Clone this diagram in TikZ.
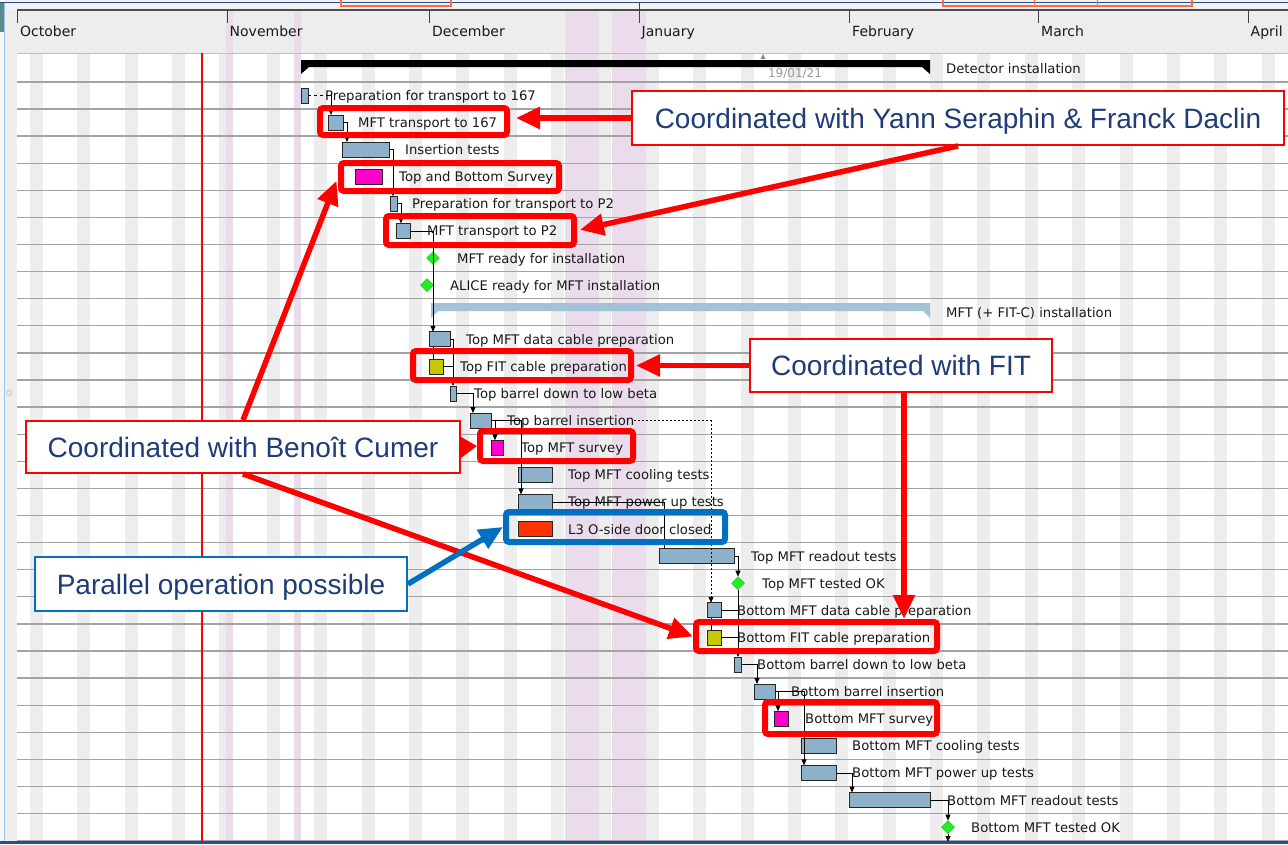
\documentclass[tikz,border=0pt]{standalone}
\usepackage{fontspec}
\usetikzlibrary{shapes.geometric,arrows.meta,calc}
\newfontfamily\gfont{DejaVu Sans}
\newfontfamily\cfont{Liberation Sans}
\definecolor{stripegray}{HTML}{EDEDED}
\definecolor{holpink}{HTML}{EADCEA}
\definecolor{gridgray}{HTML}{A3A3A3}
\definecolor{barblue}{HTML}{8DB1CA}
\definecolor{sumblue}{HTML}{A3C1D7}
\definecolor{magbar}{HTML}{FF00CC}
\definecolor{yelbar}{HTML}{C8C800}
\definecolor{redbar}{HTML}{FF3300}
\definecolor{msgreen}{HTML}{22EE22}
\definecolor{navytext}{HTML}{1F3C78}
\definecolor{callblue}{HTML}{0070C0}
\definecolor{topblue}{HTML}{2E4C8C}
\definecolor{orangetop}{HTML}{FF6A45}
\definecolor{frameteal}{HTML}{5A8C8C}
\definecolor{framelblue}{HTML}{9DC3E6}
\newcommand{\rowy}[1]{68.3+27.1*#1}
\newcommand{\gbar}[5]{\node[bar,#5,minimum width={(#3)-(#2)}] (#1) at ({(#2+#3)/2},{\rowy{#4}}) {};}
\newcommand{\glab}[4]{\node[lbl] (#1) at (#2,{\rowy{#3}+5}) {#4};}
\newcommand{\glink}[5]{\draw[cn,#5] (#1.east) -- ++(#2,0) coordinate (#4) -- (#4 |- #3.north);}
\tikzset{
  bar/.style={draw=black!85, line width=0.8pt, fill=barblue, minimum height=15, inner sep=0, outer sep=0},
  magb/.style={fill=magbar},
  yelb/.style={fill=yelbar},
  redb/.style={fill=redbar},
  diam/.style={diamond, fill=msgreen, draw=msgreen!75!black, line width=0.3pt, minimum size=13, inner sep=0, outer sep=0},
  lbl/.style={anchor=base west, inner sep=0, text=black!90, font=\gfont\fontsize{13.2}{15}\selectfont},
  monthlbl/.style={anchor=base west, inner sep=0, text=black!90, font=\gfont\fontsize{14}{16}\selectfont},
  cn/.style={draw=black, line width=0.8pt},
  arr/.style={-{Triangle[length=6pt,width=5pt]}},
  callr/.style={draw=red, line width=1.8pt, fill=white, text=navytext, font=\cfont\fontsize{28}{30}\selectfont, inner sep=0, text height=20pt, text depth=0pt},
  callb/.style={callr, draw=callblue},
  hl/.style={draw=red, line width=6pt, rounded corners=3pt, inner sep=0},
  hlb/.style={hl, draw=callblue},
  callarrow/.style={draw=red, line width=5.5pt, -{Triangle[length=24pt,width=21pt]}},
}
\begin{document}
\begin{tikzpicture}[x=1pt,y=-1pt]
\useasboundingbox (0,0) rectangle (1288,844);
% background and frame
\fill[stripegray] (0,0) rectangle (1288,844);
\fill[black!5] (0,0) rectangle (1288,10);
\fill[white] (17,53) rectangle (1288,844);
\fill[black!4] (0,0) rectangle (4,844);
\fill[frameteal] (0,3) rectangle (4,32);
\draw[framelblue, line width=1pt] (4.5,3) -- (4.5,844);
\draw[black!35] (9,393) circle (2.5);
% weekend stripes
\foreach \k in {0,...,26} \fill[stripegray] ({30+47.37*\k},53) rectangle ++(13,791);
% holidays
\fill[holpink] (226,10) rectangle (233,844);
\fill[holpink] (294,10) rectangle (301,844);
\fill[holpink] (565,10) rectangle (599,844);
\fill[holpink] (612,10) rectangle (646,844);
% header
\draw[topblue, line width=1.5pt] (0,2.5) -- (1288,2.5);
\draw[orangetop, line width=1.5pt] (341,0) -- (341,6) -- (451,6) -- (451,0);
\draw[orangetop, line width=1.5pt] (943,0) -- (943,6) -- (1192,6) -- (1192,0);
\draw[orangetop, line width=1pt] (1034,0) -- (1034,6) (1097,0) -- (1097,6);
\draw[black!70, line width=1.2pt] (17,10) -- (1288,10);
\draw[black!25, line width=1pt] (17,53) -- (1288,53);
\foreach \x/\m in {17.5/October, 227/November, 429.5/December, 639/January, 849.5/February, 1038.5/March, 1248/April}{
  \draw[black!75, line width=1pt] (\x,10) -- (\x,23);
  \node[monthlbl] at (\x+2.5,36) {\m};
}
\draw[black!75, line width=1pt] (639,3) -- (639,10);
% grid lines
\foreach \k in {0,...,28} \draw[gridgray, line width=1.3pt] (17,{81.85+27.1*\k}) -- (1288,{81.85+27.1*\k});
% today line
\draw[red, line width=1.3pt] (202,53) -- (202,844);
% summary bars
\node[anchor=base, inner sep=0, text=black!40, font=\gfont\fontsize{12}{12}\selectfont] (dt) at (795,77) {19/01/21};
\fill[black!45] (760.5,59) -- (763,54) -- (765.5,59) -- cycle;
\fill[black] (301,60) -- (930,60) -- (930,74) -- (922,67) -- (309,67) -- (301,74) -- cycle;
\fill[sumblue] (431,303) -- (930,303) -- (930,318) -- (923,311) -- (438,311) -- (431,318) -- cycle;
% bars
\gbar{b1}{301}{308}{1}{}
\gbar{b2}{328}{343}{2}{}
\gbar{b3}{342}{389}{3}{}
\gbar{b4}{355}{382}{4}{magb}
\gbar{b5}{390}{397}{5}{}
\gbar{b6}{396}{410}{6}{}
\gbar{b10}{429}{450}{10}{}
\gbar{b11}{429}{443}{11}{yelb}
\gbar{b12}{450}{456}{12}{}
\gbar{b13}{470}{491}{13}{}
\gbar{b14}{491}{503}{14}{magb}
\gbar{b15}{518}{552}{15}{}
\gbar{b16}{518}{552}{16}{}
\gbar{b17}{518}{552}{17}{redb}
\gbar{b18}{659}{734}{18}{}
\gbar{b20}{707}{721}{20}{}
\gbar{b21}{707}{721}{21}{yelb}
\gbar{b22}{734}{741}{22}{}
\gbar{b23}{754}{775}{23}{}
\gbar{b24}{774}{788}{24}{magb}
\gbar{b25}{801}{836}{25}{}
\gbar{b26}{801}{836}{26}{}
\gbar{b27}{849}{930}{27}{}
% milestones
\node[diam] (d7) at (433,{\rowy{7}}) {};
\node[diam] (d8) at (427,{\rowy{8}}) {};
\node[diam] (d19) at (738,{\rowy{19}}) {};
\node[diam] (d28) at (948,{\rowy{28}}) {};
% labels
\glab{l0}{946}{0}{Detector installation}
\glab{l1}{325}{1}{Preparation for transport to 167}
\glab{l2}{358}{2}{MFT transport to 167}
\glab{l3}{405}{3}{Insertion tests}
\glab{l4}{399}{4}{Top and Bottom Survey}
\glab{l5}{412}{5}{Preparation for transport to P2}
\glab{l6}{427}{6}{MFT transport to P2}
\glab{l7}{457}{7}{MFT ready for installation}
\glab{l8}{450}{8}{ALICE ready for MFT installation}
\glab{l9}{946}{9}{MFT (+ FIT-C) installation}
\glab{l10}{466}{10}{Top MFT data cable preparation}
\glab{l11}{460}{11}{Top FIT cable preparation}
\glab{l12}{474}{12}{Top barrel down to low beta}
\glab{l13}{507}{13}{Top barrel insertion}
\glab{l14}{521}{14}{Top MFT survey}
\glab{l15}{568}{15}{Top MFT cooling tests}
\glab{l16}{568}{16}{Top MFT power up tests}
\glab{l17}{568}{17}{L3 O-side door closed}
\glab{l18}{751}{18}{Top MFT readout tests}
\glab{l19}{762}{19}{Top MFT tested OK}
\glab{l20}{737}{20}{Bottom MFT data cable preparation}
\glab{l21}{737}{21}{Bottom FIT cable preparation}
\glab{l22}{757}{22}{Bottom barrel down to low beta}
\glab{l23}{791}{23}{Bottom barrel insertion}
\glab{l24}{805}{24}{Bottom MFT survey}
\glab{l25}{852}{25}{Bottom MFT cooling tests}
\glab{l26}{852}{26}{Bottom MFT power up tests}
\glab{l27}{947}{27}{Bottom MFT readout tests}
\glab{l28}{971}{28}{Bottom MFT tested OK}
% dependency links
\draw[cn,dashed] (b1.east) -- ++(23,0) coordinate (k1);
\draw[cn,arr] (k1) -- (k1 |- b2.north);
\glink{b2}{4}{b3}{k2}{arr}
\glink{b3}{4}{b5}{k3}{arr}
\glink{b5}{4}{b6}{k4}{arr}
\glink{b6}{23}{b10}{k5}{arr}
\glink{b10}{3}{b12}{k6}{arr}
\draw[cn] (b11.east) -- (b11.east -| k6);
\draw[cn] (k5 |- b10.south) -- (k5 |- b11.north);
\glink{b12}{17}{b13}{k7}{arr}
\glink{b13}{4}{b14}{k8}{arr}
\glink{b13}{30}{b16}{k9}{arr}
\coordinate (k12) at (711,{\rowy{13}});
\draw[cn,dash pattern=on 2pt off 2pt,line width=0.7pt,arr] (l13.east |- b13.east) -- (k12) -- (k12 |- b20.north);
\glink{b16}{112}{b18}{k10}{}
\glink{b18}{4}{d19}{k11}{arr}
\draw[cn,arr] (d19.south) -- (d19.south |- b22.north);
\draw[cn] (b20.east) -- (b20.east -| d19.south);
\draw[cn] (b21.east) -- (b21.east -| d19.south);
\draw[cn] (k12 |- b20.south) -- (k12 |- b21.north);
\glink{b22}{16}{b23}{k13}{arr}
\glink{b23}{3}{b24}{k14}{arr}
\glink{b23}{29}{b26}{k15}{arr}
\glink{b26}{16}{b27}{k16}{arr}
\glink{b27}{18}{d28}{k17}{arr}
\coordinate (kend) at (948,842);
\draw[cn,arr] (d28.south) -- (kend);
% highlight boxes
\node[hl, minimum width=187, minimum height=27] (h1) at (413.5,121.5) {};
\node[hl, minimum width=218, minimum height=28] (h2) at (450,177) {};
\node[hl, minimum width=188, minimum height=29] (h3) at (480,230.5) {};
\node[hl, minimum width=218, minimum height=29] (h4) at (522,365.5) {};
\node[hl, minimum width=153, minimum height=30] (h5) at (556.5,446) {};
\node[hlb, minimum width=219, minimum height=30] (h6) at (615.5,527) {};
\node[hl, minimum width=241, minimum height=29] (h7) at (816.5,636.5) {};
\node[hl, minimum width=172, minimum height=32] (h8) at (851,718) {};
% callouts
\node[callr, minimum width=652, minimum height=54] (c1) at (958,118) {Coordinated with Yann Seraphin \& Franck Daclin};
\node[callr, minimum width=302, minimum height=53] (c2) at (901,365.5) {Coordinated with FIT};
\node[callr, minimum width=434, minimum height=52] (c3) at (243,447) {Coordinated with Benoît Cumer};
\node[callb, minimum width=372, minimum height=54] (c4) at (221,584) {Parallel operation possible};
% callout arrows
\draw[callarrow, shorten >=6pt] (c1.west) -- (c1.west -| h1.east);
\draw[callarrow, shorten >=3pt] (c1.south) -- (h3.east);
\draw[callarrow, shorten >=2pt] (c2.west) -- (h4.east);
\draw[callarrow] ([xshift=3pt]c2.south) -- ([xshift=3pt]c2.south |- h7.north);
\draw[callarrow, shorten >=4pt] (c3.north) -- (h2.west);
\draw[draw=red, line width=5.5pt, -{Triangle[length=17pt,width=21pt]}] (c3.east) -- (h5.west);
\draw[callarrow] (c3.south) -- (h7.west);
\draw[callarrow, draw=callblue] (c4.east) -- (h6.west);
% bottom frame
\fill[topblue] (0,841) rectangle (1288,844);
\end{tikzpicture}
\end{document}
